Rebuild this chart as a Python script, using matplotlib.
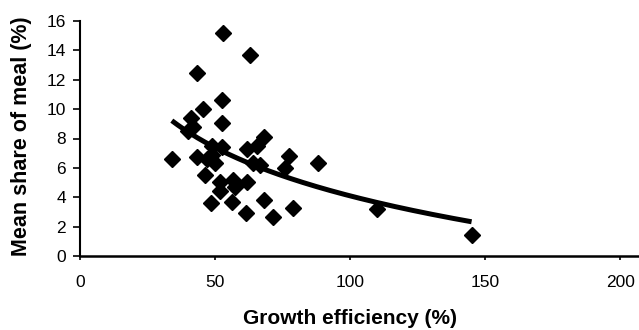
import numpy as np
import matplotlib
matplotlib.use("Agg")
import matplotlib.pyplot as plt

plt.rcParams['font.family'] = ['Liberation Sans', 'DejaVu Sans']

growth_efficiency = [34, 53, 63, 43.3, 52.5, 52.5, 45.5, 41, 42, 40, 43.5, 46.3,
                     49, 47, 50, 52.5, 48.8, 48.4, 51.8, 52, 56.7, 57.4, 56.4,
                     61.7, 61.4, 61.7, 65.4, 68, 64, 66.7, 68.3, 71.3, 77.5, 76,
                     79, 88, 110, 145]
meal_share = [6.6, 15.2, 13.7, 12.45, 10.6, 9.05, 10.0, 9.4, 8.8, 8.5, 6.75, 5.5,
              7.5, 6.6, 6.3, 7.4, 6.9, 3.6, 5.05, 4.4, 5.2, 4.7, 3.7,
              5.05, 2.95, 7.3, 7.5, 8.1, 6.3, 6.2, 3.8, 2.65, 6.8, 6.0,
              3.25, 6.35, 3.2, 1.4]
x_ticks = [0, 50, 100, 150, 200]
y_ticks = [0, 2, 4, 6, 8, 10, 12, 14, 16]

x = np.array(growth_efficiency, dtype=float)
y = np.array(meal_share, dtype=float)

# logarithmic trendline fitted to the data
b, a = np.polyfit(np.log(x), y, 1)
xf = np.linspace(x.min(), x.max(), 200)
yf = a + b * np.log(xf)

fig = plt.figure(figsize=(6.39, 3.30), dpi=100)
ax = fig.add_axes([80/639, 1 - 256/330, 559/639, 235/330])

ax.plot(x, y, linestyle='none', marker='D', ms=8, color='black', zorder=3)
ax.plot(xf, yf, color='black', lw=3.6, solid_capstyle='butt', zorder=2)

ax.set_xlim(0, 207)
ax.set_ylim(0, 16)
ax.set_xticks(x_ticks)
ax.set_yticks(y_ticks)
ax.spines['top'].set_visible(False)
ax.spines['right'].set_visible(False)
ax.spines['left'].set_linewidth(1.5)
ax.spines['bottom'].set_linewidth(1.8)
ax.tick_params(axis='both', direction='out', width=1.2, labelsize=12.5)
ax.tick_params(axis='x', length=3, pad=11)
ax.tick_params(axis='y', length=5, pad=5)

ax.set_xlabel('Growth efficiency (%)', fontsize=15, fontweight='bold', va='center')
ax.xaxis.set_label_coords(0.483, -0.268)
ax.set_ylabel('Mean share of meal (%)', fontsize=15.5, fontweight='bold', va='center', ha='center')
ax.yaxis.set_label_coords(-0.104, 0.511)

fig.savefig('out.png', dpi=100)
